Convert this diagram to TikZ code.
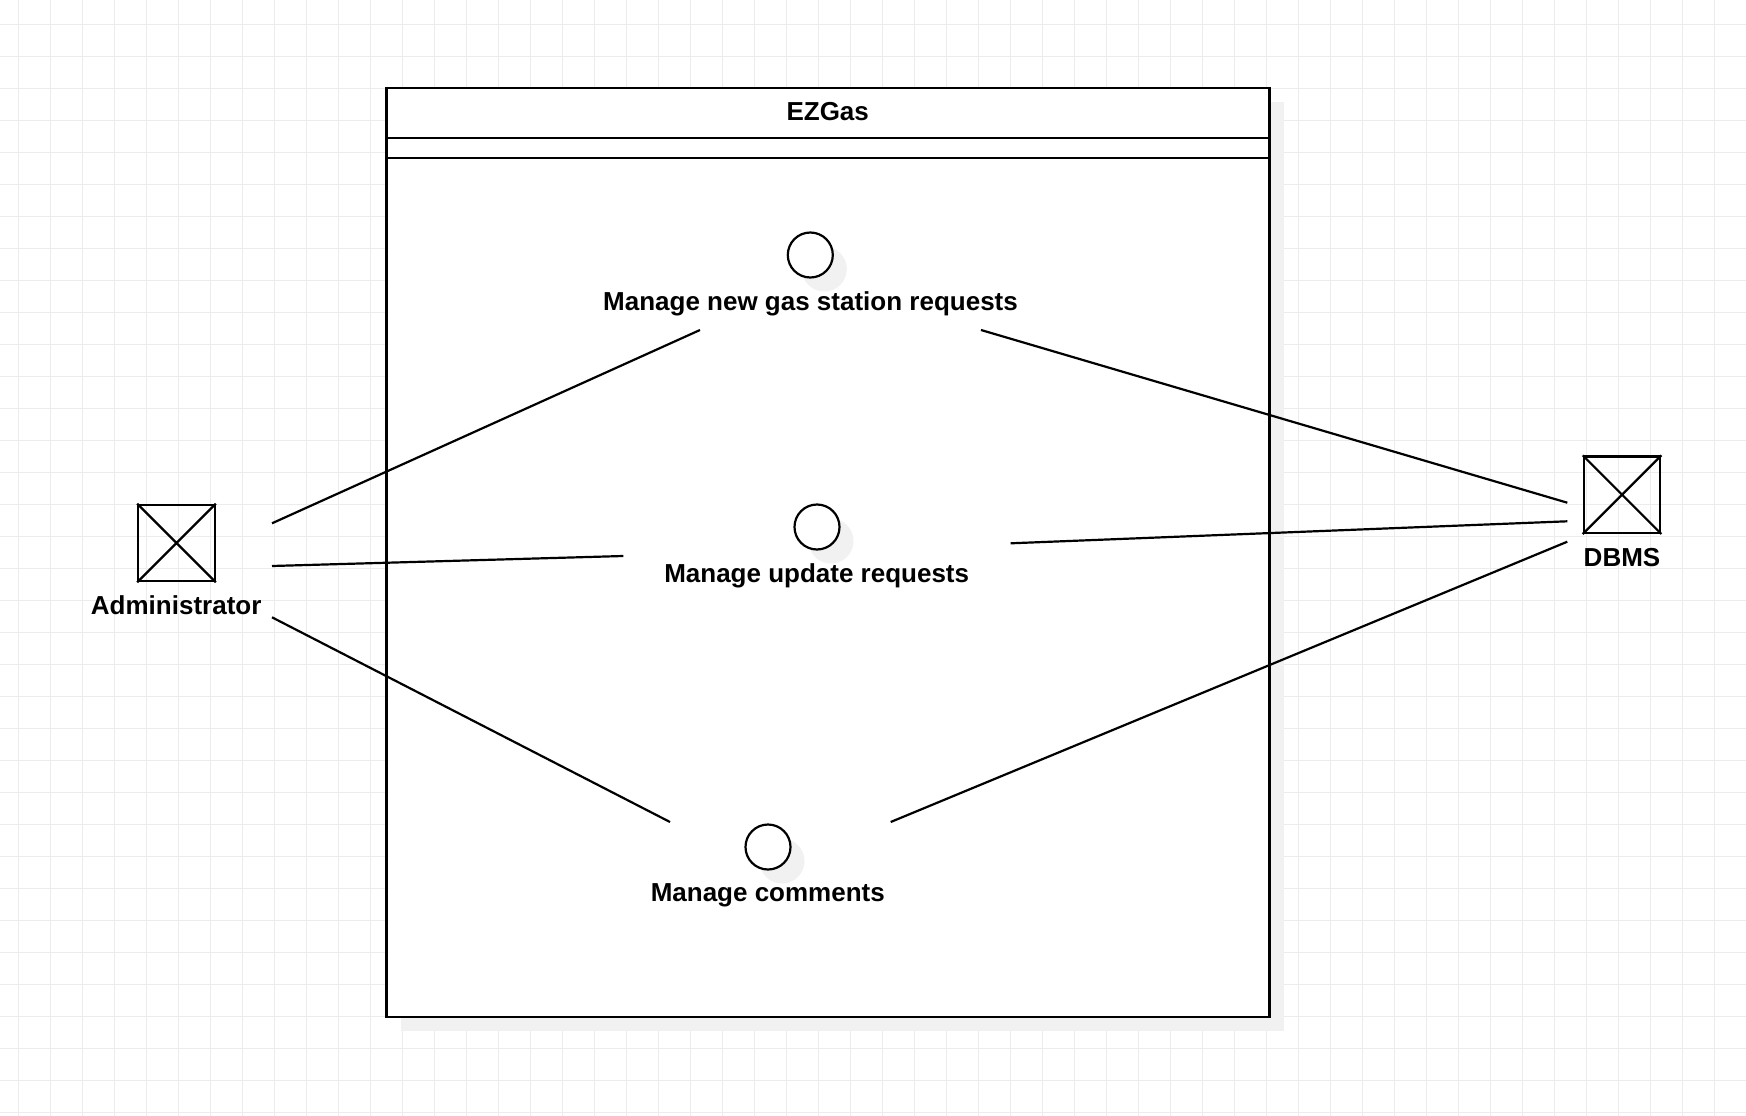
\documentclass[tikz,border=0pt]{standalone}
\usepackage{fontspec}
\setmainfont{Liberation Sans}
\usetikzlibrary{shadows}
\definecolor{gridc}{RGB}{236,236,236}
\definecolor{shadowc}{RGB}{241,241,241}
\begin{document}
\begin{tikzpicture}[x=1pt,y=-1pt,
  gridline/.style={draw=gridc, line width=1pt},
  conn/.style={draw=black, line width=2.2pt},
  shadowed/.style={drop shadow={fill=shadowc, draw=none, opacity=1, shadow xshift=14pt, shadow yshift=-14pt, shadow scale=1}},
  sysbox/.style={draw=black, fill=white, line width=2.2pt, minimum width=883pt, minimum height=929pt, inner sep=0pt, shadowed},
  usecase/.style={circle, draw=black, fill=white, line width=2.2pt, minimum size=45pt, inner sep=0pt, shadowed},
  actorbox/.style={rectangle, draw=black, line width=2.2pt, minimum size=76.5pt, inner sep=0pt},
  lbl/.style={anchor=base, inner sep=0pt, font=\fontsize{26pt}{30pt}\selectfont\bfseries}
]
\useasboundingbox (0,0) rectangle (1746,1116);
\fill[white] (0,0) rectangle (1746,1116);
% grid
\foreach \i in {0,...,53} \draw[gridline] ({18.4+32*\i},0) -- ({18.4+32*\i},1116);
\foreach \j in {0,...,34} \draw[gridline] (0,{24.3+32*\j}) -- (1746,{24.3+32*\j});

% system boundary
\node[sysbox] (sys) at (828,552.5) {};
\draw[conn] (sys.west |- 0,137.7) -- (sys.east |- 0,137.7);
\draw[conn] (sys.west |- 0,157.7) -- (sys.east |- 0,157.7);
\node[lbl] (title) at (827.7,121) {EZGas};

% use cases
\node[usecase] (uc1) at (810.3,255) {};
\node[lbl] (uc1l) at (810.5,310.5) {Manage new gas station requests};
\node[usecase] (uc2) at (817,527) {};
\node[lbl] (uc2l) at (816.7,582.2) {Manage update requests};
\node[usecase] (uc3) at (768,847) {};
\node[lbl] (uc3l) at (767.8,901.2) {Manage comments};

% actors
\node[actorbox] (admin) at (176.5,543) {};
\draw[line width=2.2pt] (admin.north west) -- (admin.south east) (admin.north east) -- (admin.south west);
\node[lbl] (adminl) at (176.2,614.8) {Administrator};
\node[actorbox] (dbms) at (1622,494.7) {};
\draw[line width=2.2pt] (dbms.north west) -- (dbms.south east) (dbms.north east) -- (dbms.south west);
\node[lbl] (dbmsl) at (1622,566.5) {DBMS};

% connector ends
\coordinate (a1) at (272,523.3);
\coordinate (a2) at (272,566);
\coordinate (a3) at (272,617.3);
\coordinate (d1) at (1567.3,502.7);
\coordinate (d2) at (1567.3,521.3);
\coordinate (d3) at (1567.3,541.7);
\coordinate (u1l) at (700,330);
\coordinate (u1r) at (981,330);
\coordinate (u2l) at (623.3,556);
\coordinate (u2r) at (1010.7,543.3);
\coordinate (u3l) at (670,822);
\coordinate (u3r) at (890.7,822);

\draw[conn] (a1) -- (u1l);
\draw[conn] (a2) -- (u2l);
\draw[conn] (a3) -- (u3l);
\draw[conn] (u1r) -- (d1);
\draw[conn] (u2r) -- (d2);
\draw[conn] (u3r) -- (d3);
\end{tikzpicture}
\end{document}
